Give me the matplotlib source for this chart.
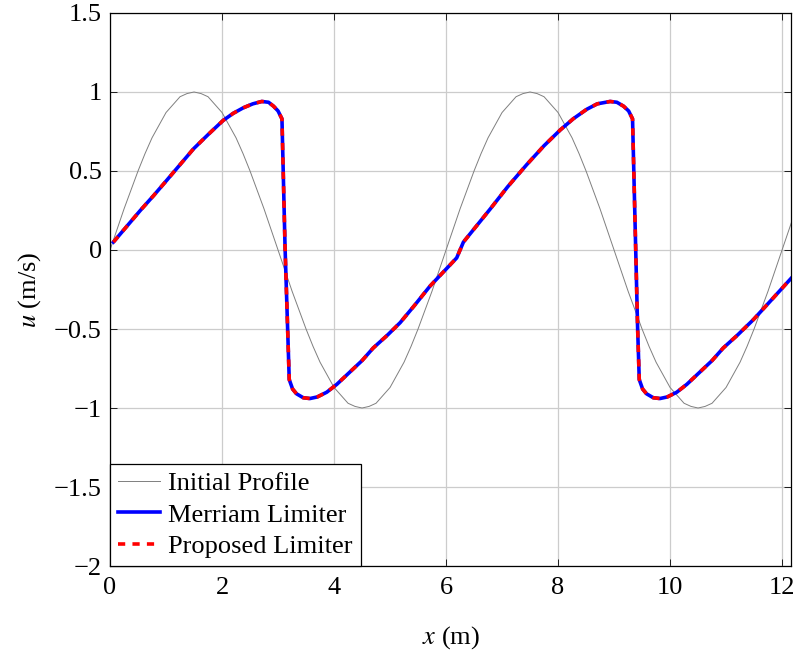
import matplotlib
matplotlib.use("Agg")
import matplotlib.pyplot as plt

# initial profile (step 0.125 m)
x_init = [i * 0.125 for i in range(99)]
u_init = [0.0, 0.13, 0.26, 0.38, 0.5, 0.61, 0.71, 0.79, 0.87, 0.92, 0.97, 0.99,
          1.0, 0.99, 0.97, 0.92, 0.87, 0.79, 0.71, 0.61, 0.5, 0.38, 0.26, 0.13,
          0.0, -0.13, -0.26, -0.38, -0.5, -0.61, -0.71, -0.79, -0.87, -0.92, -0.97, -0.99,
          -1.0, -0.99, -0.97, -0.92, -0.87, -0.79, -0.71, -0.61, -0.5, -0.38, -0.26, -0.13,
          0.0, 0.13, 0.26, 0.38, 0.5, 0.61, 0.71, 0.79, 0.87, 0.92, 0.97, 0.99,
          1.0, 0.99, 0.97, 0.92, 0.87, 0.79, 0.71, 0.61, 0.5, 0.38, 0.26, 0.13,
          0.0, -0.13, -0.26, -0.38, -0.5, -0.61, -0.71, -0.79, -0.87, -0.92, -0.97, -0.99,
          -1.0, -0.99, -0.97, -0.92, -0.87, -0.79, -0.71, -0.61, -0.5, -0.38, -0.26, -0.13,
          0.0, 0.13, 0.26]

# limiter solutions (the two curves lie on top of each other)
x_sol = [0.06, 0.30, 0.54, 0.78, 1.01, 1.25, 1.49, 1.75, 2.02, 2.20, 2.38, 2.55,
         2.71, 2.83, 2.92, 3.00, 3.07, 3.125, 3.20, 3.26, 3.33, 3.45, 3.57, 3.70,
         3.87, 4.05, 4.29, 4.50, 4.70, 4.95, 5.18, 5.45, 5.71, 5.95, 6.19, 6.31,
         6.55, 6.79, 7.10, 7.44, 7.75, 8.04, 8.27, 8.51, 8.70, 8.93, 9.05, 9.17,
         9.26, 9.33, 9.42, 9.45, 9.51, 9.58, 9.70, 9.82, 9.95, 10.12, 10.30, 10.54,
         10.75, 10.95, 11.20, 11.49, 11.80, 12.16]
u_merriam = [0.05, 0.15, 0.25, 0.345, 0.44, 0.54, 0.64, 0.73, 0.82, 0.865, 0.90, 0.925,
             0.94, 0.935, 0.91, 0.88, 0.83, 0.02, -0.82, -0.88, -0.91, -0.935, -0.94, -0.93,
             -0.90, -0.85, -0.77, -0.70, -0.62, -0.54, -0.46, -0.345, -0.23, -0.14, -0.05, 0.05,
             0.155, 0.26, 0.40, 0.54, 0.66, 0.76, 0.83, 0.89, 0.925, 0.94, 0.935, 0.91,
             0.88, 0.83, -0.485, -0.82, -0.88, -0.91, -0.935, -0.94, -0.93, -0.90, -0.85, -0.77,
             -0.70, -0.62, -0.54, -0.44, -0.32, -0.18]
u_proposed = list(u_merriam)

x_ticks = [0, 2, 4, 6, 8, 10, 12]
y_ticks = [-2, -1.5, -1, -0.5, 0, 0.5, 1, 1.5]

plt.rcParams["font.family"] = ["Liberation Serif", "DejaVu Serif"]
plt.rcParams["mathtext.fontset"] = "stix"

fig = plt.figure(figsize=(7.95, 6.59), dpi=100)
ax = fig.add_axes([0.1384, 0.1411, 0.9950 - 0.1384, 0.9803 - 0.1411])

ax.plot(x_init, u_init, color="#7f7f7f", lw=0.7, label="Initial Profile")
ax.plot(x_sol, u_merriam, color="blue", lw=2.6, label="Merriam Limiter")
ax.plot(x_sol, u_proposed, color="red", lw=2.6, dashes=(2, 2), label="Proposed Limiter")

ax.set_xlim(0, 12.16)
ax.set_ylim(-2, 1.5)
ax.set_xticks(x_ticks)
ax.set_yticks(y_ticks)
ax.set_yticklabels([f"{v:g}".replace("-", "\u2212") for v in y_ticks])
ax.grid(True, color="#cccccc", lw=0.9)
ax.set_axisbelow(True)
ax.tick_params(direction="in", top=True, right=True, length=5, width=0.6, labelsize=19)
ax.tick_params(axis="x", pad=8)
ax.tick_params(axis="y", pad=6)
for s in ax.spines.values():
    s.set_linewidth(0.9)

ax.set_xlabel("$x$ (m)", fontsize=19, labelpad=18)
ax.set_ylabel("$u$ (m/s)", fontsize=19, labelpad=8)

leg = ax.legend(loc="lower left", fontsize=19, frameon=True, fancybox=False,
                borderaxespad=0, handlelength=1.6, handletextpad=0.3,
                labelspacing=0.3, borderpad=0.3)
leg.get_frame().set_edgecolor("black")
leg.get_frame().set_linewidth(0.9)
leg.get_frame().set_alpha(1)

fig.savefig("out.png", dpi=100)
